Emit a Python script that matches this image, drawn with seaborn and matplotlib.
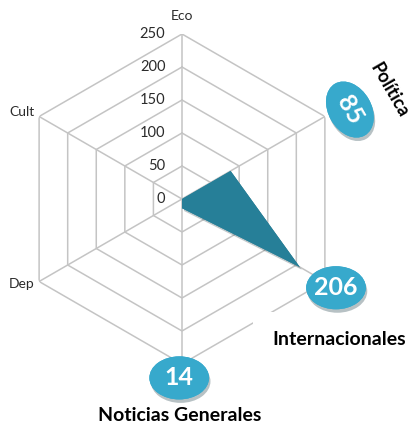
import matplotlib
matplotlib.use("Agg")
import matplotlib.pyplot as plt
import matplotlib.patheffects as pe
from matplotlib.patches import Ellipse
from matplotlib.offsetbox import AnnotationBbox, DrawingArea
import seaborn as sns
import numpy as np


# Data (clockwise from the top)

categories = ['Eco', 'Política', 'Internacionales', 'Noticias Generales', 'Dep', 'Cult']
values = [0, 85, 206, 14, 0, 0]
rTicks = [0, 50, 100, 150, 200, 250]


# Styling

sns.set_style("white")
plt.rcParams['font.family'] = ['Lato', 'DejaVu Sans']

gridColor = '#c4c4c4'
fillColor = '#267f98'
bubbleColor = '#37a9cc'
textColor = '#2b2b2b'

# offsets (points) from the outer end of each axis
smallLabelOffset = {'Eco': (0, 13), 'Cult': (-3, 3), 'Dep': (-3, -2)}
bigLabelOffset = {'Política': (46, 19), 'Internacionales': (10, -42), 'Noticias Generales': (-1.5, -37)}
bigLabelSize = {'Política': 13, 'Internacionales': 14, 'Noticias Generales': 14}
bubbleOffset = {'Política': (18, 5), 'Internacionales': (8, -4.5), 'Noticias Generales': (-2, -10)}
labelRotation = {'Política': -60, 'Internacionales': 0, 'Noticias Generales': 0}

nb = len(categories)
angles = np.linspace(0, 2 * np.pi, nb, endpoint=False)
anglesClosed = np.append(angles, angles[0])
valuesClosed = values + values[:1]
rMax = rTicks[-1]

fig = plt.figure(figsize=(4.11, 4.29), dpi=100)
ax = fig.add_axes([17 / 411, 65 / 429, 330 / 411, 330 / 429], projection='polar')
ax.set_theta_zero_location('N')
ax.set_theta_direction(-1)
ax.set_ylim(0, rMax)
ax.grid(False)
ax.spines['polar'].set_visible(False)
ax.set_xticks([])
ax.set_yticks([])
ax.patch.set_alpha(0)

# hexagonal grid
for level in rTicks[1:]:
  ax.plot(anglesClosed, [level] * (nb + 1), color=gridColor, lw=1.1, zorder=1)
for a in angles:
  ax.plot([a, a], [0, rMax], color=gridColor, lw=1.1, zorder=1)

# data polygon
poly = ax.fill(anglesClosed, valuesClosed, color=fillColor, zorder=2, lw=0)[0]
poly.set_path_effects([pe.withSimplePatchShadow(offset=(1.5, -2), alpha=0.25), pe.Normal()])

# radial tick labels along the first axis
for level in rTicks:
  ax.annotate(str(level), xy=(angles[0], level), xytext=(-12, 0), textcoords='offset points',
              ha='right', va='center', fontsize=10.5, color=textColor)

for a, cat, val in zip(angles, categories, values):
  if val == 0:
    ax.annotate(cat, xy=(a, rMax), xytext=smallLabelOffset[cat], textcoords='offset points',
                ha='right' if cat != 'Eco' else 'center', va='center', fontsize=10, color=textColor)
    continue

  # category name, bold
  bbox = None
  if cat == 'Internacionales':
    bbox = dict(boxstyle='square,pad=1.0', fc='white', ec='none')
  ax.annotate(cat, xy=(a, rMax), xytext=bigLabelOffset[cat], textcoords='offset points',
              ha='center', va='center', fontsize=bigLabelSize[cat], fontweight='bold', color='black',
              rotation=labelRotation[cat], bbox=bbox, zorder=4)

  # value bubble
  da = DrawingArea(44, 44, 0, 0)
  ell = Ellipse((22, 22), 43, 31, angle=labelRotation[cat], fc=bubbleColor, ec='none')
  ell.set_path_effects([pe.withSimplePatchShadow(offset=(1, -2.5), alpha=0.3), pe.Normal()])
  da.add_artist(ell)
  ab = AnnotationBbox(da, (a, rMax), xybox=bubbleOffset[cat], boxcoords='offset points',
                      frameon=False, box_alignment=(0.5, 0.5), zorder=5)
  ax.add_artist(ab)
  ax.annotate(str(val), xy=(a, rMax), xytext=bubbleOffset[cat], textcoords='offset points',
              ha='center', va='center', fontsize=18, fontweight='bold', color='white',
              rotation=labelRotation[cat], zorder=6)

fig.savefig('out.png', dpi=100)
